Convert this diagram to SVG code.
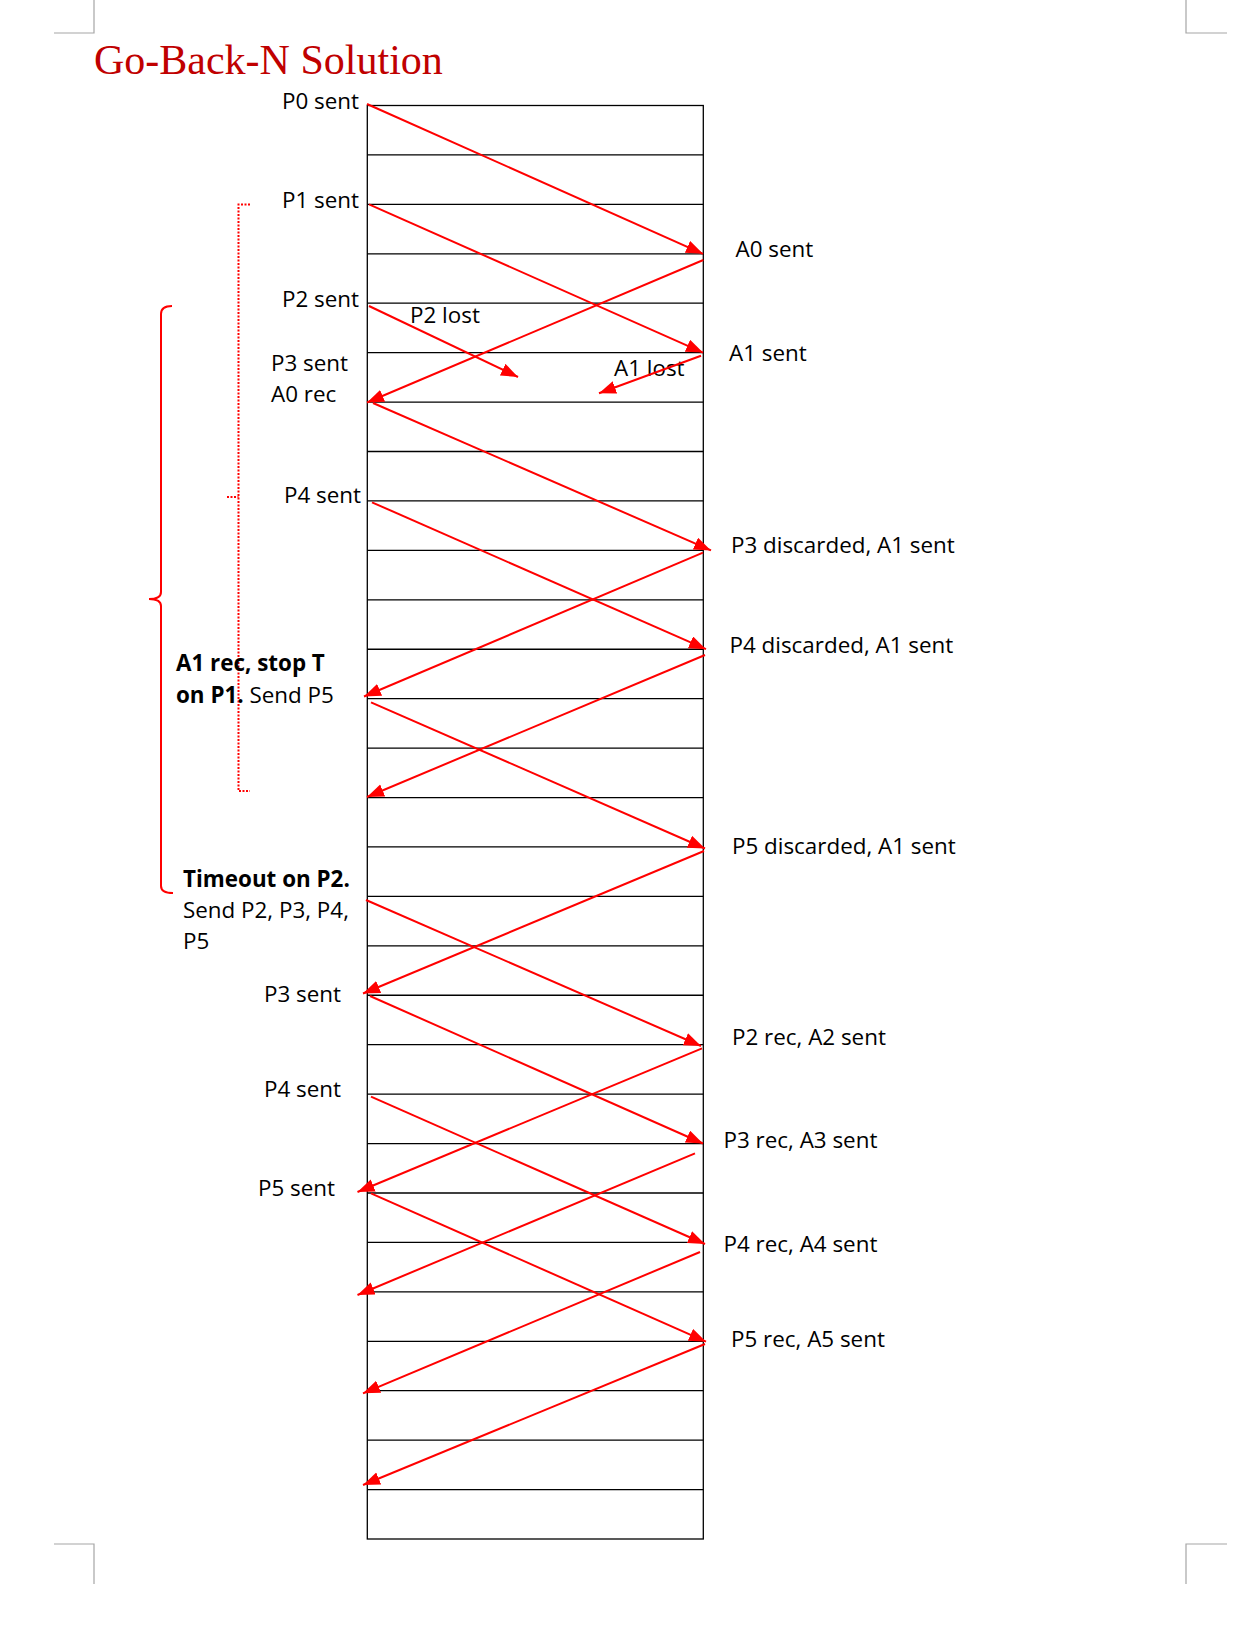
<svg xmlns="http://www.w3.org/2000/svg" width="1249" height="1625" viewBox="0 0 1249 1625">
<style>
.t{font-family:"Open Sans","Liberation Sans",sans-serif;font-size:22.4px;fill:#000}
.b{font-weight:bold}
.e{text-anchor:end}
.g{stroke:#000;stroke-width:1.3;fill:none}
.a{stroke:#FF0000;stroke-width:2;fill:none;marker-end:url(#ah)}
.crop{stroke:#A6A6A6;stroke-width:1.2;fill:none}
.br{stroke:#FF0000;stroke-width:2;fill:none}
.dot{stroke:#FF0000;stroke-width:2;fill:none;stroke-dasharray:2 1.5}
</style>
<defs>
<marker id="ah" markerUnits="userSpaceOnUse" markerWidth="18" markerHeight="14" refX="17" refY="6.5" orient="auto">
<path d="M0,0 L17,6.5 L0,13 z" fill="#FF0000"/>
</marker>
</defs>
<rect width="1249" height="1625" fill="#fff"/>
<g id="crop-marks">
<path class="crop" d="M94,0 V33 H54 M1186,0 V33 H1227 M54,1544 H94 V1584 M1227,1544 H1186 V1584"/>
</g>
<g id="title">
<text x="94" y="74" style="font-family:'Liberation Serif','Times New Roman',serif;font-size:42px;fill:#C00000">Go-Back-N Solution</text>
</g>
<g id="grid">
<rect class="g" x="367.3" y="105.5" width="336" height="1433.5"/>
<path class="g" d="M367.3,154.93H703.3M367.3,204.36H703.3M367.3,253.79H703.3M367.3,303.22H703.3M367.3,352.66H703.3M367.3,402.09H703.3M367.3,451.52H703.3M367.3,500.95H703.3M367.3,550.38H703.3M367.3,599.81H703.3M367.3,649.24H703.3M367.3,698.67H703.3M367.3,748.1H703.3M367.3,797.53H703.3M367.3,846.97H703.3M367.3,896.4H703.3M367.3,945.83H703.3M367.3,995.26H703.3M367.3,1044.69H703.3M367.3,1094.12H703.3M367.3,1143.55H703.3M367.3,1192.98H703.3M367.3,1242.41H703.3M367.3,1291.84H703.3M367.3,1341.28H703.3M367.3,1390.71H703.3M367.3,1440.14H703.3M367.3,1489.57H703.3"/>
</g>
<g id="brackets">
<path class="dot" d="M250,204.5 H238.5 V791 H250 M227,497 H238.5"/>
<path class="br" d="M172,306 Q161,306 161,314 L161,592 Q161,599 149,599 Q161,599 161,606 L161,886 Q161,893 173,893"/>
</g>
<g id="sender-labels">
<text class="t e" x="359" y="109">P0 sent</text>
<text class="t e" x="359" y="208">P1 sent</text>
<text class="t e" x="359" y="307">P2 sent</text>
<text class="t" x="271" y="371">P3 sent</text>
<text class="t" x="271" y="402">A0 rec</text>
<text class="t e" x="361" y="503">P4 sent</text>
<text class="t" x="176" y="671"><tspan class="b">A1 rec, stop T</tspan></text>
<text class="t" x="176" y="702.5"><tspan class="b">on P1.</tspan> Send P5</text>
<text class="t" x="183" y="887"><tspan class="b">Timeout on P2.</tspan></text>
<text class="t" x="183" y="918">Send P2, P3, P4,</text>
<text class="t" x="183" y="949">P5</text>
<text class="t e" x="341" y="1001.5">P3 sent</text>
<text class="t e" x="341" y="1097">P4 sent</text>
<text class="t e" x="335" y="1195.5">P5 sent</text>
</g>
<g id="receiver-labels">
<text class="t" x="735.5" y="257">A0 sent</text>
<text class="t" x="729" y="360.5">A1 sent</text>
<text class="t" x="731" y="553">P3 discarded, A1 sent</text>
<text class="t" x="729.5" y="653">P4 discarded, A1 sent</text>
<text class="t" x="732" y="854">P5 discarded, A1 sent</text>
<text class="t" x="732" y="1045">P2 rec, A2 sent</text>
<text class="t" x="723.5" y="1147.5">P3 rec, A3 sent</text>
<text class="t" x="723.5" y="1251.5">P4 rec, A4 sent</text>
<text class="t" x="731" y="1347">P5 rec, A5 sent</text>
</g>
<g id="loss-labels">
<text class="t" x="410" y="322.5">P2 lost</text>
<text class="t" x="614" y="375.5">A1 lost</text>
</g>
<g id="connectors">
<line class="a" x1="367" y1="104" x2="703" y2="253.8"/>
<line class="a" x1="369" y1="204.3" x2="703" y2="352.6"/>
<line class="a" x1="703.3" y1="260" x2="367" y2="402.5"/>
<line class="a" x1="369" y1="306" x2="518" y2="377"/>
<line class="a" x1="701" y1="355.7" x2="599" y2="393.3"/>
<line class="a" x1="373" y1="403" x2="711" y2="550.4"/>
<line class="a" x1="372" y1="502.3" x2="706" y2="649.2"/>
<line class="a" x1="703" y1="552.7" x2="364" y2="696.5"/>
<line class="a" x1="705" y1="655" x2="367" y2="797"/>
<line class="a" x1="371" y1="702.3" x2="705" y2="848.5"/>
<line class="a" x1="704" y1="851" x2="363" y2="993.5"/>
<line class="a" x1="366" y1="900" x2="701" y2="1046"/>
<line class="a" x1="370" y1="996" x2="703" y2="1143.5"/>
<line class="a" x1="702" y1="1048.3" x2="357.5" y2="1192"/>
<line class="a" x1="371" y1="1096.7" x2="705" y2="1244"/>
<line class="a" x1="695" y1="1153.3" x2="357.5" y2="1295"/>
<line class="a" x1="371" y1="1193.3" x2="706" y2="1341.7"/>
<line class="a" x1="700" y1="1252" x2="363" y2="1393.3"/>
<line class="a" x1="705" y1="1344" x2="363" y2="1485"/>
</g>
</svg>
